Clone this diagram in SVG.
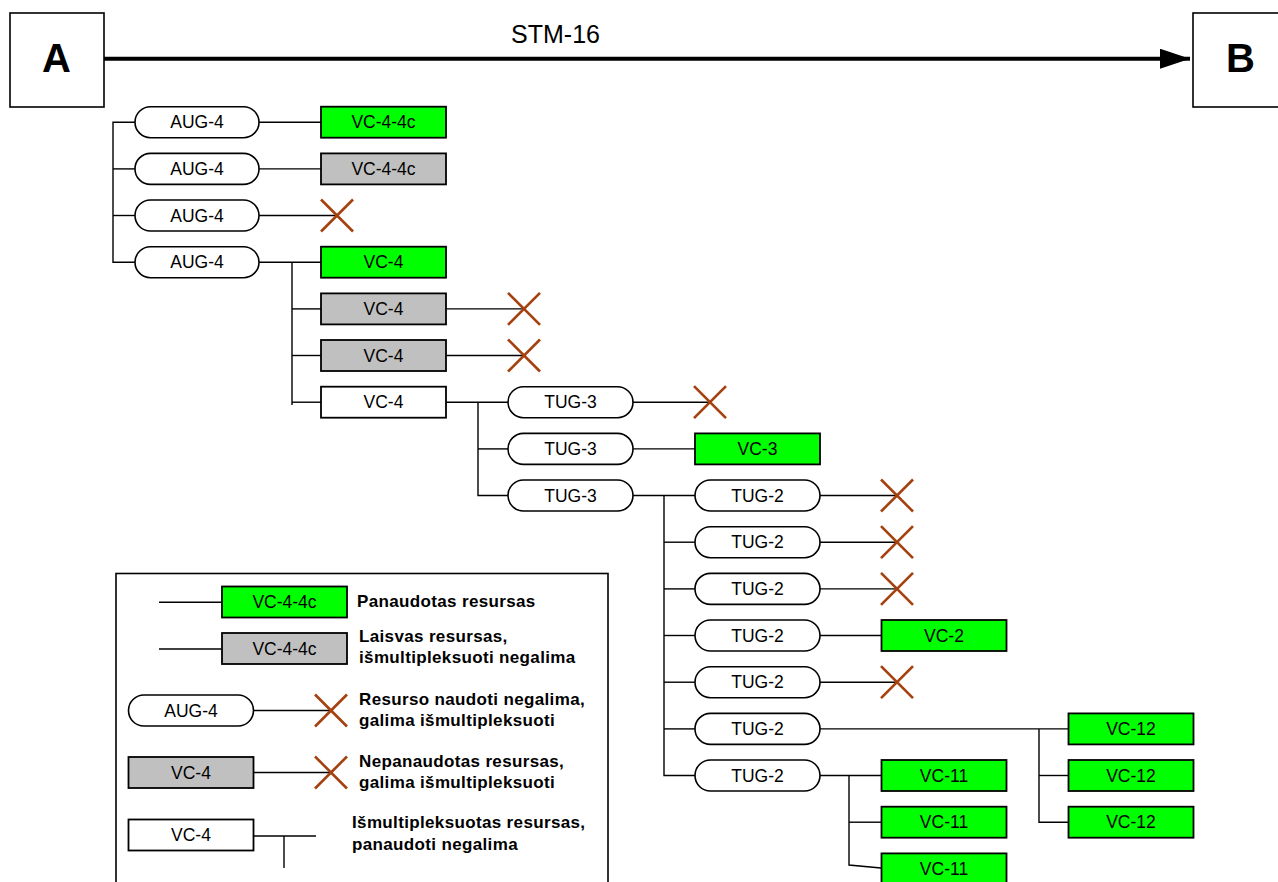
<svg xmlns="http://www.w3.org/2000/svg" xmlns:xlink="http://www.w3.org/1999/xlink" width="1278" height="882" viewBox="0 0 1278 882">
<style>
.ln{stroke:#000;stroke-width:1.4;fill:none}
.pill{fill:#fff;stroke:#000;stroke-width:1.6}
.g{fill:#00ff00;stroke:#000;stroke-width:1.8}
.gr{fill:#c0c0c0;stroke:#000;stroke-width:1.8}
.w{fill:#fff;stroke:#000;stroke-width:1.8}
.t{font-family:"Liberation Sans",Arial,sans-serif;font-size:17.5px;text-anchor:middle;fill:#000}
.lt{font-family:"Liberation Sans",Arial,sans-serif;font-size:17px;font-weight:bold;letter-spacing:0.35px;fill:#000}
.big{font-family:"Liberation Sans",Arial,sans-serif;font-size:40px;font-weight:bold;text-anchor:middle;fill:#000}
.xm{stroke:#a5410f;stroke-width:2.6;fill:none}
</style>
<defs>
<marker id="arr" markerWidth="30" markerHeight="20" refX="30" refY="10" orient="auto" markerUnits="userSpaceOnUse">
<path d="M0,0 L30,10 L0,20 Z" fill="#000"/>
</marker>
<g id="xmark"><line class="xm" x1="-16" y1="-16" x2="16" y2="16"/><line class="xm" x1="-16" y1="16" x2="16" y2="-16"/></g>
</defs>
<rect width="1278" height="882" fill="#fff"/>

<g id="connectors">
<line x1="104" y1="58.7" x2="1190" y2="58.7" stroke="#000" stroke-width="4" marker-end="url(#arr)"/>
<polyline class="ln" points="135,122.2 113,122.2 113,262.2 135,262.2"/>
<line class="ln" x1="113" y1="168.9" x2="135" y2="168.9"/>
<line class="ln" x1="113" y1="215.5" x2="135" y2="215.5"/>
<line class="ln" x1="259" y1="122.2" x2="321" y2="122.2"/>
<line class="ln" x1="259" y1="168.9" x2="321" y2="168.9"/>
<line class="ln" x1="259" y1="215.5" x2="337" y2="215.5"/>
<line class="ln" x1="259" y1="262.2" x2="321" y2="262.2"/>
<line class="ln" x1="292" y1="262.2" x2="292" y2="405"/>
<line class="ln" x1="292" y1="308.9" x2="321" y2="308.9"/>
<line class="ln" x1="292" y1="355.5" x2="321" y2="355.5"/>
<line class="ln" x1="292" y1="402.2" x2="321" y2="402.2"/>
<line class="ln" x1="446" y1="308.9" x2="524" y2="308.9"/>
<line class="ln" x1="446" y1="355.5" x2="524" y2="355.5"/>
<polyline class="ln" points="446,402.2 508,402.2"/>
<polyline class="ln" points="478,402.2 478,495.5 508,495.5"/>
<line class="ln" x1="478" y1="448.9" x2="508" y2="448.9"/>
<line class="ln" x1="633" y1="402.2" x2="710" y2="402.2"/>
<line class="ln" x1="633" y1="448.9" x2="695" y2="448.9"/>
<line class="ln" x1="633" y1="495.5" x2="695" y2="495.5"/>
<polyline class="ln" points="664,495.5 664,775.5 695,775.5"/>
<line class="ln" x1="664" y1="542.2" x2="695" y2="542.2"/>
<line class="ln" x1="664" y1="588.9" x2="695" y2="588.9"/>
<line class="ln" x1="664" y1="635.5" x2="695" y2="635.5"/>
<line class="ln" x1="664" y1="682.2" x2="695" y2="682.2"/>
<line class="ln" x1="664" y1="728.9" x2="695" y2="728.9"/>
<line class="ln" x1="820" y1="495.5" x2="897" y2="495.5"/>
<line class="ln" x1="820" y1="542.2" x2="897" y2="542.2"/>
<line class="ln" x1="820" y1="588.9" x2="897" y2="588.9"/>
<line class="ln" x1="820" y1="635.5" x2="881" y2="635.5"/>
<line class="ln" x1="820" y1="682.2" x2="897" y2="682.2"/>
<line class="ln" x1="820" y1="728.9" x2="1068" y2="728.9"/>
<polyline class="ln" points="1039,728.9 1039,822.2 1068,822.2"/>
<line class="ln" x1="1039" y1="775.5" x2="1068" y2="775.5"/>
<line class="ln" x1="820" y1="775.5" x2="881" y2="775.5"/>
<polyline class="ln" points="849,775.5 849,865 881,868"/>
<line class="ln" x1="849" y1="822.2" x2="881" y2="822.2"/>
</g>

<g id="node-A"><rect x="10" y="13" width="94" height="94" fill="#fff" stroke="#000" stroke-width="1.6"/><text class="big" x="56.5" y="72">A</text></g>
<g id="node-B"><rect x="1193" y="13" width="94" height="94" fill="#fff" stroke="#000" stroke-width="1.6"/><text class="big" x="1240.5" y="72">B</text></g>
<g id="label-stm16"><text x="555.5" y="43" style="font-family:'Liberation Sans',Arial,sans-serif;font-size:25px;text-anchor:middle">STM-16</text></g>

<g id="aug4-1"><rect class="pill" x="135" y="106.7" width="124" height="31" rx="15.5"/><text class="t" x="197" y="128.3">AUG-4</text></g>
<g id="aug4-2"><rect class="pill" x="135" y="153.4" width="124" height="31" rx="15.5"/><text class="t" x="197" y="175">AUG-4</text></g>
<g id="aug4-3"><rect class="pill" x="135" y="200" width="124" height="31" rx="15.5"/><text class="t" x="197" y="221.6">AUG-4</text></g>
<g id="aug4-4"><rect class="pill" x="135" y="246.7" width="124" height="31" rx="15.5"/><text class="t" x="197" y="268.3">AUG-4</text></g>

<g id="vc44c-1"><rect class="g" x="321" y="106.7" width="125" height="31"/><text class="t" x="383.5" y="128.3">VC-4-4c</text></g>
<g id="vc44c-2"><rect class="gr" x="321" y="153.4" width="125" height="31"/><text class="t" x="383.5" y="175">VC-4-4c</text></g>
<g id="x-aug4-3"><use xlink:href="#xmark" x="337" y="215.5"/></g>
<g id="vc4-1"><rect class="g" x="321" y="246.7" width="125" height="31"/><text class="t" x="383.5" y="268.3">VC-4</text></g>
<g id="vc4-2"><rect class="gr" x="321" y="293.4" width="125" height="31"/><text class="t" x="383.5" y="315">VC-4</text></g>
<g id="vc4-3"><rect class="gr" x="321" y="340" width="125" height="31"/><text class="t" x="383.5" y="361.6">VC-4</text></g>
<g id="vc4-4"><rect class="w" x="321" y="386.7" width="125" height="31"/><text class="t" x="383.5" y="408.3">VC-4</text></g>
<g id="x-vc4-2"><use xlink:href="#xmark" x="524" y="308.9"/></g>
<g id="x-vc4-3"><use xlink:href="#xmark" x="524" y="355.5"/></g>

<g id="tug3-1"><rect class="pill" x="508" y="386.7" width="125" height="31" rx="15.5"/><text class="t" x="570.5" y="408.3">TUG-3</text></g>
<g id="tug3-2"><rect class="pill" x="508" y="433.4" width="125" height="31" rx="15.5"/><text class="t" x="570.5" y="455">TUG-3</text></g>
<g id="tug3-3"><rect class="pill" x="508" y="480" width="125" height="31" rx="15.5"/><text class="t" x="570.5" y="501.6">TUG-3</text></g>
<g id="x-tug3-1"><use xlink:href="#xmark" x="710" y="402.2"/></g>
<g id="vc3"><rect class="g" x="695" y="433.4" width="125" height="31"/><text class="t" x="757.5" y="455">VC-3</text></g>

<g id="tug2-1"><rect class="pill" x="695" y="480" width="125" height="31" rx="15.5"/><text class="t" x="757.5" y="501.6">TUG-2</text></g>
<g id="tug2-2"><rect class="pill" x="695" y="526.7" width="125" height="31" rx="15.5"/><text class="t" x="757.5" y="548.3">TUG-2</text></g>
<g id="tug2-3"><rect class="pill" x="695" y="573.4" width="125" height="31" rx="15.5"/><text class="t" x="757.5" y="595">TUG-2</text></g>
<g id="tug2-4"><rect class="pill" x="695" y="620" width="125" height="31" rx="15.5"/><text class="t" x="757.5" y="641.6">TUG-2</text></g>
<g id="tug2-5"><rect class="pill" x="695" y="666.7" width="125" height="31" rx="15.5"/><text class="t" x="757.5" y="688.3">TUG-2</text></g>
<g id="tug2-6"><rect class="pill" x="695" y="713.4" width="125" height="31" rx="15.5"/><text class="t" x="757.5" y="735">TUG-2</text></g>
<g id="tug2-7"><rect class="pill" x="695" y="760" width="125" height="31" rx="15.5"/><text class="t" x="757.5" y="781.6">TUG-2</text></g>
<g id="x-tug2-1"><use xlink:href="#xmark" x="897" y="495.5"/></g>
<g id="x-tug2-2"><use xlink:href="#xmark" x="897" y="542.2"/></g>
<g id="x-tug2-3"><use xlink:href="#xmark" x="897" y="588.9"/></g>
<g id="vc2"><rect class="g" x="881.5" y="620" width="125" height="31"/><text class="t" x="944" y="641.6">VC-2</text></g>
<g id="x-tug2-5"><use xlink:href="#xmark" x="897" y="682.2"/></g>

<g id="vc12-1"><rect class="g" x="1068.5" y="713.4" width="125" height="31"/><text class="t" x="1131" y="735">VC-12</text></g>
<g id="vc12-2"><rect class="g" x="1068.5" y="760" width="125" height="31"/><text class="t" x="1131" y="781.6">VC-12</text></g>
<g id="vc12-3"><rect class="g" x="1068.5" y="806.7" width="125" height="31"/><text class="t" x="1131" y="828.3">VC-12</text></g>
<g id="vc11-1"><rect class="g" x="881.5" y="760" width="125" height="31"/><text class="t" x="944" y="781.6">VC-11</text></g>
<g id="vc11-2"><rect class="g" x="881.5" y="806.7" width="125" height="31"/><text class="t" x="944" y="828.3">VC-11</text></g>
<g id="vc11-3"><rect class="g" x="881.5" y="853.4" width="125" height="31"/><text class="t" x="944" y="875">VC-11</text></g>

<g id="legend">
<rect x="116" y="573.5" width="492" height="330" fill="none" stroke="#000" stroke-width="1.6"/>
<line class="ln" x1="159" y1="602.2" x2="222" y2="602.2"/>
<rect class="g" x="222" y="586.5" width="125" height="31"/><text class="t" x="284.5" y="608">VC-4-4c</text>
<text class="lt" x="357" y="607">Panaudotas resursas</text>
<line class="ln" x1="159" y1="649" x2="222" y2="649"/>
<rect class="gr" x="222" y="633" width="125" height="31"/><text class="t" x="284.5" y="654.6">VC-4-4c</text>
<text class="lt" x="359" y="641.7">Laisvas resursas,</text>
<text class="lt" x="359" y="663.3">išmultipleksuoti negalima</text>
<rect class="pill" x="128.5" y="695" width="125" height="31" rx="15.5"/><text class="t" x="191" y="716.6">AUG-4</text>
<line class="ln" x1="253.5" y1="710.5" x2="331" y2="710.5"/>
<use xlink:href="#xmark" x="331" y="710.5"/>
<text class="lt" x="359" y="705">Resurso naudoti negalima,</text>
<text class="lt" x="359" y="725.7">galima išmultipleksuoti</text>
<rect class="gr" x="128.5" y="757" width="125" height="31"/><text class="t" x="191" y="778.6">VC-4</text>
<line class="ln" x1="253.5" y1="772.5" x2="331" y2="772.5"/>
<use xlink:href="#xmark" x="331" y="772.5"/>
<text class="lt" x="359" y="767.3">Nepanaudotas resursas,</text>
<text class="lt" x="359" y="787.7">galima išmultipleksuoti</text>
<rect class="w" x="128.5" y="819.5" width="125" height="31"/><text class="t" x="191" y="841.1">VC-4</text>
<line class="ln" x1="253.5" y1="836" x2="316" y2="836"/>
<line class="ln" x1="284" y1="836" x2="284" y2="868"/>
<text class="lt" x="352" y="828.3">Išmultipleksuotas resursas,</text>
<text class="lt" x="352" y="850">panaudoti negalima</text>
</g>
</svg>
